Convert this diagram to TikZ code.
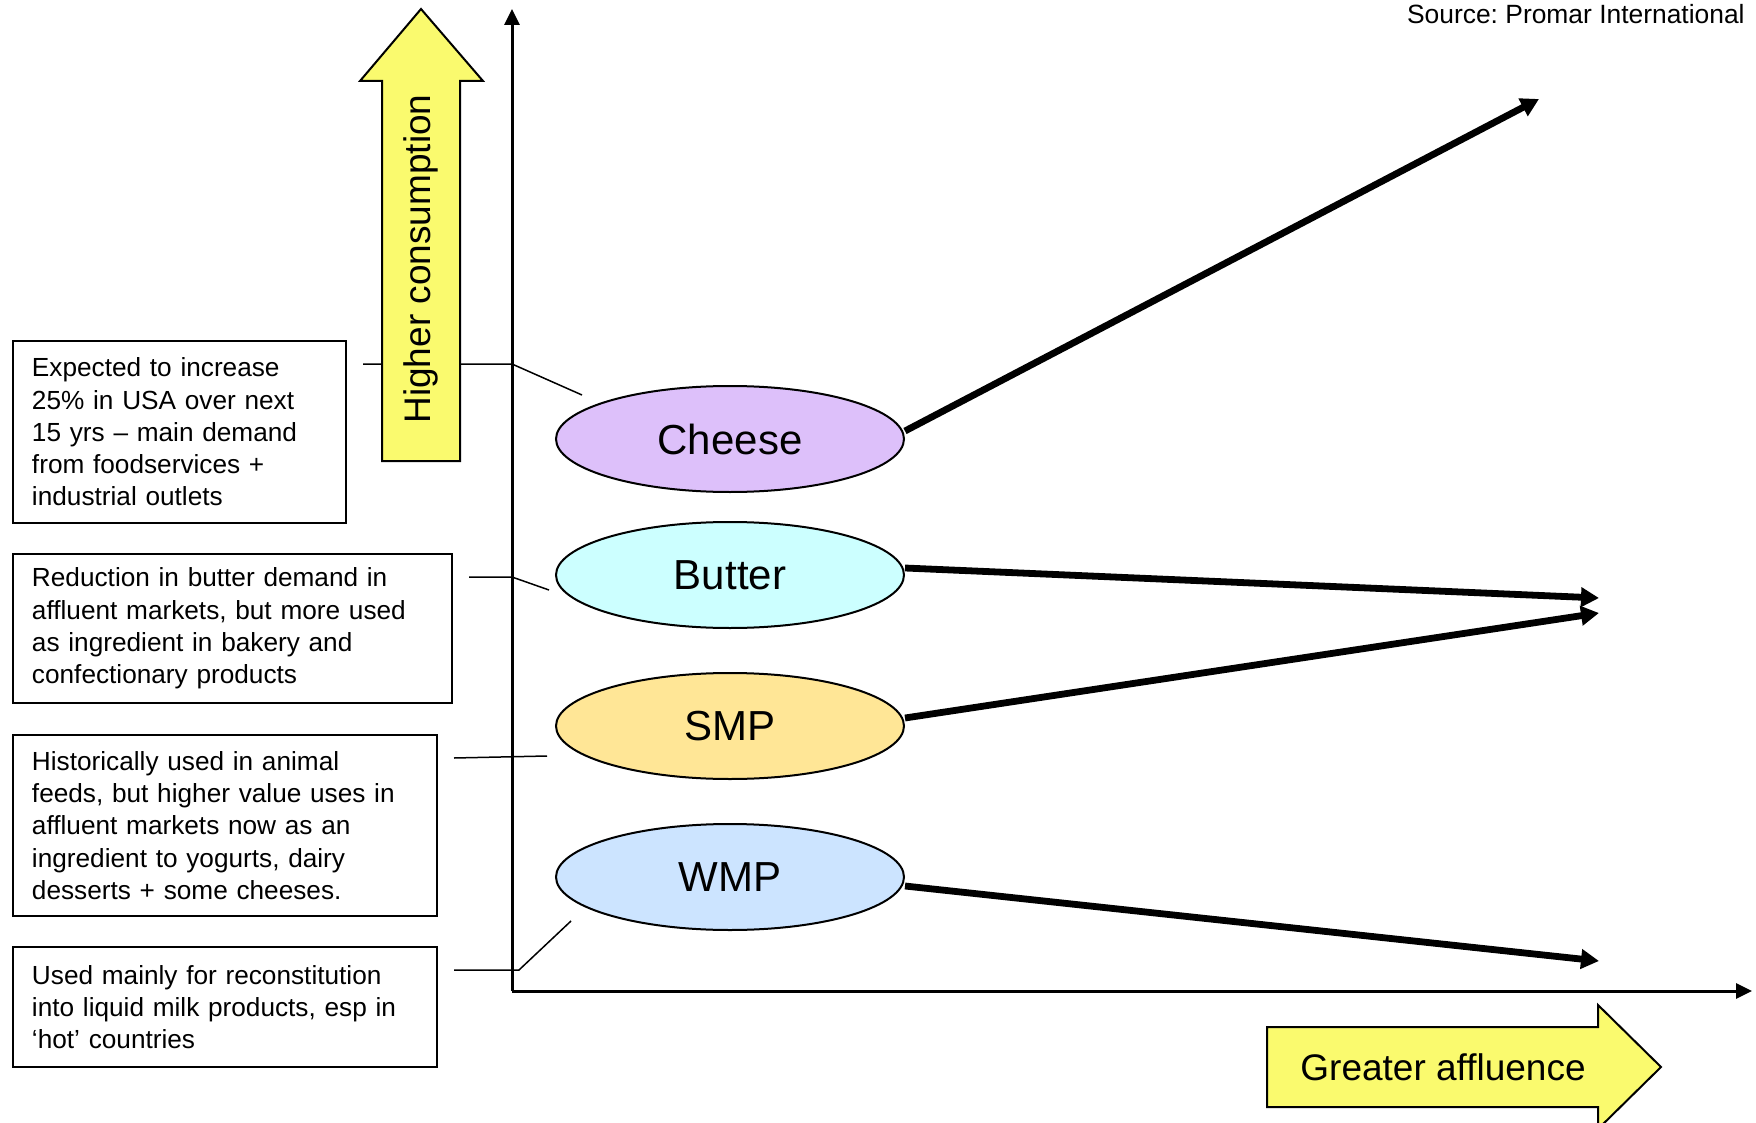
\documentclass[tikz,border=0pt]{standalone}
\usepackage{fontspec}
\setmainfont{Liberation Sans}
\usetikzlibrary{arrows.meta,shapes.geometric}
\definecolor{cheesec}{RGB}{221,192,250}
\definecolor{butterc}{RGB}{204,255,255}
\definecolor{smpc}{RGB}{255,230,150}
\definecolor{wmpc}{RGB}{204,228,255}
\definecolor{arrowy}{RGB}{250,250,110}
\frenchspacing
\begin{document}
\begin{tikzpicture}[x=0.5pt,y=-0.5pt,
  note/.style={draw, line width=1pt, align=left, anchor=north west, inner xsep=9.5pt, inner ysep=0pt,
    font=\fontsize{13.1pt}{16.1pt}\selectfont},
  prod/.style={ellipse, draw, line width=1pt, minimum width=174pt, minimum height=53pt, inner sep=0pt,
    font=\fontsize{21pt}{25pt}\selectfont},
  axisline/.style={line width=1.5pt, -{Triangle[length=8pt,width=7.5pt]}},
  trend/.style={line width=3.4pt, -{Triangle[length=9pt,width=9.5pt]}},
  link/.style={line width=0.75pt},
  bigarrow/.style={draw, line width=1pt, fill=arrowy},
  arrowtext/.style={font=\fontsize{18.5pt}{22pt}\selectfont, inner sep=0pt}
]
\useasboundingbox (0,0) rectangle (1756,1123);

% source
\node[anchor=base east, inner sep=0pt, font=\fontsize{13.2pt}{16pt}\selectfont] (src) at (1745,24) {Source: Promar International};

% boxes
\node[note, minimum width=166.5pt, text width=147.5pt, minimum height=91pt] (n1) at (12,340)
  {Expected to increase\\25\% in USA over next\\15 yrs – main demand\\from foodservices +\\industrial outlets};
\node[note, minimum width=219.5pt, text width=200.5pt, minimum height=74.5pt] (n2) at (12,553)
  {Reduction in butter demand in\\affluent markets, but more used\\as ingredient in bakery and\\confectionary products};
\node[note, minimum width=212pt, text width=193pt, minimum height=90.5pt] (n3) at (12,734)
  {Historically used in animal\\feeds, but higher value uses in\\affluent markets now as an\\ingredient to yogurts, dairy\\desserts + some cheeses.};
\node[note, minimum width=212pt, text width=193pt, minimum height=60pt] (n4) at (12,946)
  {Used mainly for reconstitution\\into liquid milk products, esp in\\‘hot’ countries};

% ellipses
\node[prod, fill=cheesec] (cheese) at (730,439) {Cheese};
\node[prod, fill=butterc] (butter) at (730,575) {Butter};
\node[prod, fill=smpc] (smp) at (730,726) {SMP};
\node[prod, fill=wmpc] (wmp) at (730,877) {WMP};

% connector coordinates
\coordinate (k1) at (512,364);
\coordinate (e1) at (582,395);
\coordinate (k2) at (512,577);
\coordinate (e2) at (549,590);
\coordinate (e3) at (547,756);
\coordinate (k4) at (519,970);
\coordinate (e4) at (571,921);

\draw[link] ([shift={(8pt,-12pt)}]n1.north east) -- (k1) -- (e1);
\draw[link] ([shift={(8pt,-12pt)}]n2.north east) -- (k2) -- (e2);
\draw[link] ([shift={(8pt,-12pt)}]n3.north east) -- (e3);
\draw[link] ([shift={(8pt,-12pt)}]n4.north east) -- (k4) -- (e4);

% axes
\coordinate (O) at (512,991);
\coordinate (ytop) at (512,9);
\coordinate (xend) at (1752,991);
\draw[axisline] (O) -- (ytop);
\draw[axisline] (O) -- (xend);

% big yellow arrows
\draw[bigarrow] (382,461) -- (382,81) -- (360,81) -- (421,9) -- (483,81) -- (460,81) -- (460,461) -- cycle;
\node[arrowtext, rotate=90] (hc) at (421,259) {Higher consumption};
\draw[bigarrow] (1267,1027) -- (1598,1027) -- (1598,1005) -- (1661,1067) -- (1598,1129) -- (1598,1107) -- (1267,1107) -- cycle;
\node[arrowtext] (ga) at (1443,1067) {Greater affluence};

% trend arrows
\coordinate (t1) at (1539,99);
\coordinate (t2) at (1599,598);
\coordinate (t3) at (1599,613);
\coordinate (t4) at (1599,961);
\draw[trend] ([yshift=4pt]cheese.east) -- (t1);
\draw[trend] ([yshift=3.5pt]butter.east) -- (t2);
\draw[trend] ([yshift=4pt]smp.east) -- (t3);
\draw[trend] ([yshift=-4.5pt]wmp.east) -- (t4);
\end{tikzpicture}
\end{document}
